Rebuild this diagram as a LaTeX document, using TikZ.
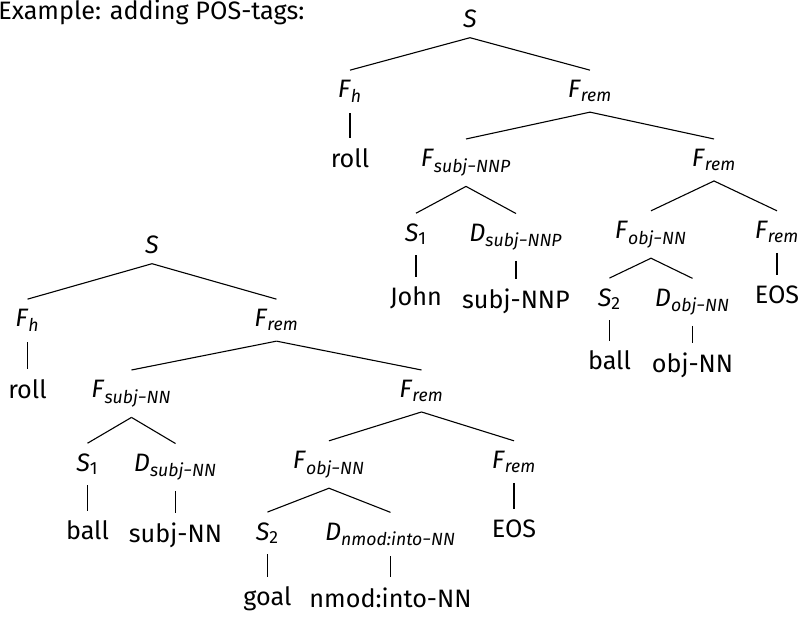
\documentclass[tikz,border=0pt]{standalone}
\usepackage{fontspec}
\setmainfont{Fira Sans}
\usepackage{tikz}
\usetikzlibrary{trees}
\newcommand{\sym}[2]{\textit{#1}\textsubscript{\itshape #2}}

\begin{document}
\begin{tikzpicture}[x=.5pt, y=.5pt,
  every node/.style={anchor=base, inner sep=5pt, font=\fontsize{12.6}{16}\selectfont},
  edge from parent/.style={draw, line width=.55pt},
  edge from parent path={(\tikzparentnode.south) -- (\tikzchildnode.north)}]
\useasboundingbox (0,0) rectangle (804,-617);

\node[anchor=base west, inner sep=0pt] (title) at (-2,-19) {Example: adding POS-tags:};

% upper tree
\begin{scope}[level 1/.style={level distance=39.8pt, sibling distance=120pt},
              level 2/.style={level distance=37.8pt},
              level 3/.style={level distance=39.3pt},
              level 4/.style={level distance=35.8pt},
              level 5/.style={level distance=35.4pt}]
\node (Su) at (470,-27) {\textit{S}}
  child { node (Fhu) {\sym{F}{h}}
    child { node (rollu) {roll} } }
  child { node (Fremu) {\sym{F}{rem}}
    child[sibling distance=124pt] { node (Fsubju) {\sym{F}{subj−NNP}}
      child[sibling distance=50pt] { node (Sau) {\sym{S}{\upshape 1}}
        child { node (johnu) {John} } }
      child[sibling distance=50pt] { node (Dsubju) {\sym{D}{subj−NNP}}
        child { node (subjtagu) {subj-NNP} } } }
    child[sibling distance=124pt] { node (Frembu) {\sym{F}{rem}}
      child[sibling distance=63pt] { node (Fobju) {\sym{F}{obj−NN}}
        child[sibling distance=41.5pt] { node (Sbu) {\sym{S}{\upshape 2}}
          child { node (ballu) {ball} } }
        child[sibling distance=41.5pt] { node (Dobju) {\sym{D}{obj−NN}}
          child { node (objtagu) {obj-NN} } } }
      child[sibling distance=63pt] { node (Fremcu) {\sym{F}{rem}}
        child { node (eosu) {EOS} } } } };
\end{scope}

% lower tree
\begin{scope}[level 1/.style={level distance=41.3pt, sibling distance=124.5pt},
              level 2/.style={level distance=38.8pt},
              level 3/.style={level distance=38.8pt},
              level 4/.style={level distance=37.8pt},
              level 5/.style={level distance=36.4pt}]
\node (Sl) at (152,-253) {\textit{S}}
  child { node (Fhl) {\sym{F}{h}}
    child { node (rolll) {roll} } }
  child { node (Freml) {\sym{F}{rem}}
    child[sibling distance=145pt] { node (Fsubjl) {\sym{F}{subj−NN}}
      child[sibling distance=44pt] { node (Sal) {\sym{S}{\upshape 1}}
        child { node (balll) {ball} } }
      child[sibling distance=44pt] { node (Dsubjl) {\sym{D}{subj−NN}}
        child { node (subjtagl) {subj-NN} } } }
    child[sibling distance=145pt] { node (Frembl) {\sym{F}{rem}}
      child[sibling distance=92.5pt] { node (Fobjl) {\sym{F}{obj−NN}}
        child[sibling distance=61.5pt] { node (Sbl) {\sym{S}{\upshape 2}}
          child { node (goall) {goal} } }
        child[sibling distance=61.5pt] { node (Dnmodl) {\sym{D}{nmod:into−NN}}
          child { node (nmodtagl) {nmod:into-NN} } } }
      child[sibling distance=92.5pt] { node (Fremcl) {\sym{F}{rem}}
        child { node (eosl) {EOS} } } } };
\end{scope}
\end{tikzpicture}
\end{document}
